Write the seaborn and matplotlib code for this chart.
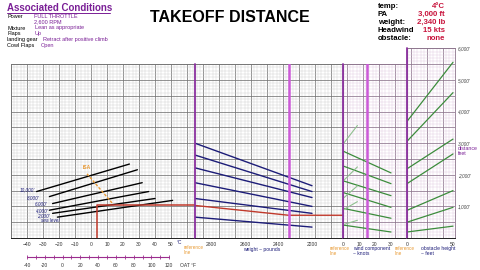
import numpy as np
import pandas as pd
import matplotlib
matplotlib.use("Agg")
import matplotlib.pyplot as plt
import seaborn as sns
from matplotlib.ticker import MultipleLocator
from matplotlib.lines import Line2D
from matplotlib import transforms

# ---- values ----
# pressure altitude lines in the temperature panel (deg C -> distance ft)
alt_labels = ["10,000'", "8,000'", "6,000'", "4,000'", "2,000'", "sea level"]
alt_t0 = [-34, -26, -24, -26, -24, -21]
alt_t1 = [24, 29, 32, 36, 40, 51]
alt_d0 = [1470, 1310, 1090, 880, 780, 660]
alt_d1 = [2340, 2160, 1750, 1470, 1250, 1190]
# where the altitude names sit (right end of text)
alt_lab_t = [-35, -32, -27.5, -26.3, -25.6, -19.4]
alt_lab_d = [1520, 1266, 1076, 854, 696, 538]

isa_t = [-2.5, 13.5]
isa_d = [2030, 1090]

# weight guide lines (lb -> ft)
wt_lb = [2900, 2200]
wt_d0 = [3000, 2625, 2220, 1750, 1250, 660]
wt_d1 = [1655, 1470, 1280, 1000, 780, 345]

# wind guide lines (kts -> ft)
hw_kt = [0, 30]
hw_d0 = [2750, 2280, 1810, 1440, 940, 410]
hw_d1 = [2060, 1720, 1340, 970, 625, 190]
tw_kt = [0, 9]
tw_d0 = [2970, 1800, 1250, 890, 420]
tw_d1 = [3560, 2250, 1650, 1150, 560]

# obstacle guide lines (obstacle ft -> ft)
ob_ft = [0, 50]
ob_d0 = [3690, 3060, 2190, 1720, 875, 500, 190]
ob_d1 = [5560, 4600, 3130, 2660, 1500, 970, 375]

# worked example path
path_t = [4, 4, 65]
path_td = [0, 1030, 1030]
path_lb = [2900, 2340, 2015]
path_ld = [1030, 720, 720]

temp_ticks = [-40, -30, -20, -10, 0, 10, 20, 30, 40, 50]
oat_f_ticks = [-40, -20, 0, 20, 40, 60, 80, 100, 120]
oat_f_minor = list(range(-40, 121, 10))
weight_ticks = [2800, 2600, 2400, 2200]
wind_ticks = [0, 10, 20, 30]
obs_ticks = [0, 50]
dist_ticks = [1000, 2000, 3000, 4000, 5000, 6000]

sel_weight = 2340
sel_wind = 15

cond_labels = ["Power", "", "Mixture", "Flaps", "landing gear", "Cowl Flaps"]
cond_values = ["FULL THROTTLE", "2,600 RPM", "Lean as appropriate", "Up",
               "Retract after positive climb", "Open"]
given_labels = ["temp:", "PA", "weight:", "Headwind", "obstacle:"]
given_values = ["4°C", "3,000 ft", "2,340 lb", "15 kts", "none"]

# ---- styling ----
sns.set_theme(style="white")
plt.rcParams['font.family'] = ['Liberation Sans', 'DejaVu Sans']

NAVY = '#1c1c78'
GREEN = '#3c8c3c'
RED = '#c0392b'
REF = '#8a2f9e'
HILITE = '#cc5ad8'
ORANGE = '#e89a34'
PURPLE_TXT = '#7a1f96'

W, H = 480, 270
Y0 = 238
PX_FT = 0.0316

fig = plt.figure(figsize=(4.8, 2.7), dpi=100)


def rect(x0, x1, top_ft):
    ytop = Y0 - top_ft * PX_FT
    return [x0 / W, 1 - Y0 / H, (x1 - x0) / W, (Y0 - ytop) / H]


def paper(x0, x1, top_ft, minor_col, major_col):
    # graph paper behind a panel
    ax = fig.add_axes(rect(x0, x1, top_ft))
    ax.set_xlim((x0 - 91) / 1.6, (x1 - 91) / 1.6)
    ax.set_ylim(0, top_ft)
    ax.xaxis.set_major_locator(MultipleLocator(10))
    ax.xaxis.set_minor_locator(MultipleLocator(2))
    ax.yaxis.set_major_locator(MultipleLocator(500))
    ax.yaxis.set_minor_locator(MultipleLocator(100))
    ax.grid(which='minor', color=minor_col, lw=0.3)
    ax.grid(which='major', color=major_col, lw=0.55)
    ax.tick_params(which='both', length=0, labelbottom=False, labelleft=False)
    for s in ax.spines.values():
        s.set_color(major_col)
        s.set_linewidth(0.6)
    return ax


def data_ax(x0, x1, top_ft, xlim, ticks):
    ax = fig.add_axes(rect(x0, x1, top_ft))
    ax.patch.set_alpha(0)
    ax.set_xlim(*xlim)
    ax.set_ylim(0, top_ft)
    for s in ['top', 'right', 'left']:
        ax.spines[s].set_visible(False)
    ax.spines['bottom'].set_color('#222222')
    ax.spines['bottom'].set_linewidth(0.7)
    ax.set_xticks(ticks)
    ax.tick_params(axis='x', length=1.5, width=0.5, pad=1.5, labelsize=3.6,
                   labelcolor='#333333', color='#222222')
    ax.set_yticks([])
    return ax


paper(11, 343, 5500, '#cccccc', '#747474')
paper(343, 407, 5500, '#dfc6df', '#8c748c')
paper(407, 455, 6000, '#dfc6df', '#8c748c')

ax_t = data_ax(11, 195, 5500, (-50, 65), temp_ticks)
ax_w = data_ax(195, 343, 5500, (2900, 2900 - 148 * 700 / 117), weight_ticks)
ax_h = data_ax(343, 407, 5500, (0, 40), wind_ticks)
ax_o = data_ax(407, 455, 6000, (0, 48 / 0.92), obs_ticks)


def family(ax, xs, d0, d1, color, lw, ls='-'):
    n = len(d0)
    df = pd.DataFrame({'x': [xs[0]] * n + [xs[1]] * n,
                       'd': list(d0) + list(d1),
                       'line': list(range(n)) * 2})
    sns.lineplot(data=df, x='x', y='d', units='line', estimator=None,
                 color=color, lw=lw, ls=ls, ax=ax, legend=False)
    ax.set_xlabel('')
    ax.set_ylabel('')


def path(ax, xs, ds, color, lw, ls='-'):
    df = pd.DataFrame({'x': xs, 'd': ds})
    sns.lineplot(data=df, x='x', y='d', units=[0] * len(xs), estimator=None,
                 sort=False, color=color, lw=lw, ls=ls, ax=ax, legend=False)
    ax.set_xlabel('')
    ax.set_ylabel('')


# temperature panel
for i, lab in enumerate(alt_labels):
    path(ax_t, [alt_t0[i], alt_t1[i]], [alt_d0[i], alt_d1[i]], 'black', 1.0)
    ax_t.text(alt_lab_t[i], alt_lab_d[i], lab, ha='right', va='center',
              fontsize=3.3, color=NAVY, style='italic')
path(ax_t, isa_t, isa_d, ORANGE, 1.0, ls=(0, (2, 1.2)))
ax_t.text(isa_t[0], isa_d[0] + 120, 'ISA', ha='center', va='bottom',
          fontsize=3.6, color=ORANGE, fontweight='bold')
path(ax_t, path_t, path_td, RED, 1.1)

# weight panel
family(ax_w, wt_lb, wt_d0, wt_d1, NAVY, 1.0)
path(ax_w, path_lb, path_ld, RED, 1.0)
ax_w.axvline(ax_w.get_xlim()[0], color=REF, lw=1.3, clip_on=False)
ax_w.axvline(sel_weight, color=HILITE, lw=1.8)

# wind panel
family(ax_h, hw_kt, hw_d0, hw_d1, GREEN, 0.9)
family(ax_h, tw_kt, tw_d0, tw_d1, '#8fbf8f', 0.8)
ax_h.axvline(0, color=REF, lw=1.3, clip_on=False)
ax_h.axvline(sel_wind, color=HILITE, lw=1.8)

# obstacle panel
family(ax_o, ob_ft, ob_d0, ob_d1, GREEN, 0.9)
ax_o.axvline(0, color=REF, lw=1.3, clip_on=False)
ax_o.yaxis.set_ticks_position('right')
ax_o.set_yticks(dist_ticks)
ax_o.set_yticklabels([f"{v:,}'" for v in dist_ticks])
ax_o.tick_params(axis='y', length=0, pad=2, labelsize=3.4, labelcolor='#444444')
for lab in ax_o.get_yticklabels():
    lab.set_style('italic')
trans_o = transforms.blended_transform_factory(ax_o.transAxes, ax_o.transData)
ax_o.text(1.06, 2750, "distance\nfeet", transform=trans_o, ha='left', va='center',
          fontsize=3.8, color=PURPLE_TXT, linespacing=1.0)


# Fahrenheit scale under the temperature axis
def f2c(f):
    return (np.asarray(f, dtype=float) - 32) * 5 / 9


trans_t = transforms.blended_transform_factory(ax_t.transData, ax_t.transAxes)
yf = -19 / 173.8
ax_t.plot(f2c([oat_f_minor[0], oat_f_minor[-1]]), [yf, yf], transform=trans_t,
          clip_on=False, color='#9b2d8e', lw=0.8)
ax_t.plot(f2c(oat_f_minor), [yf] * len(oat_f_minor), transform=trans_t, clip_on=False,
          ls='none', marker='|', ms=2.6, mew=0.6, color='#9b2d8e')
for f in oat_f_ticks:
    ax_t.text(f2c(f), yf - 0.035, str(f), transform=trans_t, ha='center', va='top',
              fontsize=3.6, color='#333333')
ax_t.text(55.5, yf - 0.035, 'OAT °F', transform=trans_t, ha='left', va='top',
          fontsize=3.6, color='#333333')


def ftext(x, y, s, **kw):
    fig.text(x / W, 1 - y / H, s, **kw)


# bottom captions
ftext(177, 243, '°C', fontsize=3.6, color=NAVY, va='center')
ftext(184, 245, 'reference\nline', fontsize=3.3, color=ORANGE, va='top', linespacing=1.0)
ftext(262, 249, 'weight ~ pounds', fontsize=3.6, color=NAVY, ha='center', va='center')
ftext(330, 246, 'reference\nline', fontsize=3.3, color=ORANGE, va='top', linespacing=1.0)
ftext(353, 246, 'wind component\n~ knots', fontsize=3.6, color=NAVY, va='top', linespacing=1.0)
ftext(395, 246, 'reference\nline', fontsize=3.3, color=ORANGE, va='top', linespacing=1.0)
ftext(421, 246, 'obstacle height\n~ feet', fontsize=3.6, color=NAVY, va='top', linespacing=1.0)

# header
ftext(7, 8, 'Associated Conditions', fontsize=7, fontweight='bold', color=PURPLE_TXT,
      va='center')
fig.add_artist(Line2D([7 / W, 110 / W], [1 - 12.8 / H] * 2, color=PURPLE_TXT, lw=0.7))
cond_y = [16, 22, 28, 34, 40, 46]
cond_x = [34, 34, 35, 35, 43, 41]
for lab, val, y, x in zip(cond_labels, cond_values, cond_y, cond_x):
    ftext(7, y, lab, fontsize=4, color='black', va='center')
    ftext(x, y, val, fontsize=4, color=PURPLE_TXT, va='center')

ftext(230, 18, 'TAKEOFF DISTANCE', fontsize=11.5, fontweight='bold', color='black',
      ha='center', va='center')

given_y = [6, 14, 22.5, 31, 39]
for lab, val, y in zip(given_labels, given_values, given_y):
    ftext(378, y, lab, fontsize=5.6, fontweight='bold', color='black', va='center')
    ftext(445, y, val, fontsize=5.6, fontweight='bold', color='#c8143c',
          ha='right', va='center')

fig.savefig('out.png', dpi=100)
